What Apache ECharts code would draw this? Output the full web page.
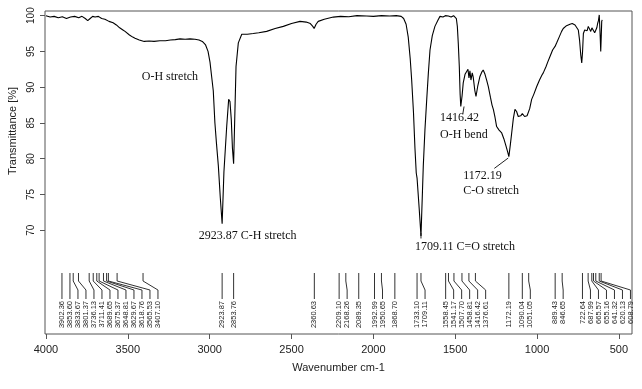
<!DOCTYPE html>
<html>
<head>
<meta charset="utf-8">
<script src="https://cdn.jsdelivr.net/npm/echarts@6/dist/echarts.min.js"></script>
<style>html,body{margin:0;padding:0;background:#fff;}#c{width:642px;height:389px;}</style>
</head>
<body>
<div id="c"></div>
<script>
// Spectrum (wavenumber cm-1, transmittance %)
const wavenumbers = [4000,3975,3950,3925,3900,3875,3850,3825,3800,3780,3760,3745,3730,3715,3700,3680,3660,3640,3615,3590,3570,3550,3530,3517,3490,3470,3456,3430,3400,3370,3340,3304,3270,3240,3210,3181,3150,3120,3090,3065,3045,3025,3010,2998,2988,2978,2968,2958,2947,2935,2923.87,2913,2896,2884,2876,2868,2861,2853.76,2847,2839,2825,2804,2770,2734,2700,2652,2600,2550,2500,2448,2410,2385,2370,2362,2350,2337,2300,2245,2200,2150,2100,2041,2000,1950,1900,1860,1830,1815,1800,1787,1775,1766,1755,1746,1738,1733.1,1726,1720,1709.11,1700,1695,1685,1674,1664,1654,1640,1624,1605,1593,1575,1560,1542,1525,1510,1501,1493,1487,1481,1475,1470,1466,1458,1451,1440,1430,1422,1416,1410,1404,1396,1390,1380,1373,1362,1349,1338,1329,1318,1308,1298,1285,1275,1267,1257,1247,1232,1216,1203,1190,1180,1172.19,1163,1155,1145,1135,1125,1115,1100,1090,1084,1076,1068,1061,1054,1045,1033,1020,1002,985,970,962,945,935,921,905,890,880,865,850,840,820,799,785,768,758,748,740,733,727,722,717,709,701,694,687,680,672,665,656,648,640,635,630,625,620,615,611,608,605,602];
const transmittance = [100,99.8,99.9,99.7,99.85,99.6,99.8,99.9,99.7,99.9,99.6,99.3,99.6,99.9,99.8,99.9,99.6,99.5,99.2,99.0,98.7,98.3,98.0,97.8,97.3,97.0,96.85,96.6,96.4,96.45,96.4,96.5,96.5,96.6,96.65,96.75,96.7,96.75,96.7,96.6,96.4,95.9,95.0,93.5,91.5,89.5,85.0,82.0,79.0,74.5,70.9,78.1,84.5,88.3,88.0,85.5,81.5,79.3,85.5,92.9,96.2,97.4,97.4,97.5,97.6,97.8,98.2,98.5,98.9,99.2,99.1,98.9,98.5,98.2,98.8,99.2,99.5,99.8,99.9,99.85,100,99.95,99.9,100,99.95,100,99.9,99.6,98.8,97.0,94.0,91.0,86.5,81.5,78.0,77.3,77.1,73.0,69.2,75.5,79.0,84.0,88.3,92.0,95.2,97.2,98.5,99.4,99.9,99.8,100,99.95,99.8,100,99.9,99.6,98.5,96.0,92.9,89.0,87.3,88.8,90.6,91.8,92.2,92.5,91.3,92.3,91.0,92.0,91.4,89.5,88.7,90.2,91.5,92.1,92.4,91.8,91.0,90.1,88.6,87.5,86.9,85.8,84.5,84.0,83.6,82.8,81.8,81.0,80.3,82.0,83.6,85.6,86.9,86.6,85.9,86.0,86.3,86.2,85.9,85.7,86.0,86.2,87.0,88.3,89.0,90.1,91.0,91.7,92.0,92.9,93.5,94.3,95.2,95.7,96.2,97.0,97.8,98.2,98.6,98.8,98.9,98.7,98.5,98.0,96.5,94.5,93.4,95.0,97.5,98.0,98.2,97.9,98.5,98.3,97.8,98.3,98.2,97.6,97.5,98.3,98.9,99.3,100.1,97.5,95.0,97.0,99.2,99.4];

// Peak list (wavenumbers shown in the peak table under the curve)
const peakWavenumbers = [3902.36,3853.60,3833.67,3801.37,3736.13,3711.41,3689.65,3675.37,3648.81,3629.67,3618.76,3565.53,3407.10,2923.87,2853.76,2360.63,2209.10,2168.26,2089.35,1992.99,1950.65,1868.70,1733.10,1709.11,1558.45,1541.17,1507.70,1458.81,1416.42,1376.61,1172.19,1090.04,1051.05,889.43,846.65,722.64,687.99,665.57,655.16,641.32,620.13,608.79];

// Band assignments
const annotationTexts = ['O-H stretch','2923.87 C-H stretch','1709.11 C=O stretch','1416.42','O-H bend','1172.19','C-O stretch'];
const annotationWavenumbers = [3415,3066,1746,1593,1593,1451,1451];
const annotationTransmittance = [91.46,69.18,67.65,85.71,83.38,77.58,75.49];
// leader lines [fromWn, fromT, toWn, toT]
const leaderFromWn = [1446,1176,1709.11];
const leaderFromT = [87.3,80.1,69.6];
const leaderToWn = [1454,1261,1709.11];
const leaderToT = [86.2,78.65,68.85];

const xTicks = [4000,3500,3000,2500,2000,1500,1000,500];
const yTicks = [70,75,80,85,90,95,100];

const chart = echarts.init(document.getElementById('c'), null, {renderer:'canvas'});
const Y_MIN = 55.5, Y_MAX = 100.65;

function fmt(v){ return v.toFixed(2); }

const peakRender = function(params, api){
  const idx = params.dataIndex;
  // label positions: pushed right to avoid overlap
  const gap = 8.0;
  let prev = -1e9, lx = [];
  for (let i=0;i<peakWavenumbers.length;i++){
    const px = api.coord([peakWavenumbers[i], Y_MIN])[0];
    const x = Math.max(px, prev + gap);
    lx.push(x); prev = x;
  }
  const base = api.coord([peakWavenumbers[idx], Y_MIN]);
  const px = base[0], bottom = base[1];
  const x2 = lx[idx];
  const yTop = bottom - 61, yB1 = bottom - 53, yB2 = bottom - 44, yEnd = bottom - 35;
  const pts = Math.abs(x2 - px) < 0.6 ? [[px,yTop],[px,yEnd]] : [[px,yTop],[px,yB1],[x2,yB2],[x2,yEnd]];
  return {type:'group', children:[
    {type:'polyline', shape:{points:pts}, style:{stroke:'#333', lineWidth:1, fill:null}},
    {type:'text', x:x2, y:bottom-33, rotation:Math.PI/2,
     style:{text:fmt(peakWavenumbers[idx]), fontSize:7.5, fontFamily:'Liberation Sans, Arial, sans-serif', fill:'#222', align:'right', verticalAlign:'middle'}}
  ]};
};

const annRender = function(params, api){
  const i = params.dataIndex;
  const p = api.coord([annotationWavenumbers[i], annotationTransmittance[i]]);
  return {type:'text', x:p[0], y:p[1], style:{text:annotationTexts[i], fontSize:12, fontFamily:'Liberation Serif, Times New Roman, serif', fill:'#111', align:'left', verticalAlign:'middle'}};
};
const leaderRender = function(params, api){
  const i = params.dataIndex;
  const a = api.coord([leaderFromWn[i], leaderFromT[i]]);
  const b = api.coord([leaderToWn[i], leaderToT[i]]);
  return {type:'line', shape:{x1:a[0],y1:a[1],x2:b[0],y2:b[1]}, style:{stroke:'#222', lineWidth:1}};
};

const option = {
  animation:false,
  backgroundColor:'#fff',
  grid:{left:45, top:11, right:10, bottom:55, show:true, borderColor:'#555', borderWidth:1, backgroundColor:'transparent'},
  xAxis:{type:'value', inverse:true, min:420, max:4006,
    name:'Wavenumber cm-1', nameLocation:'middle', nameGap:28,
    nameTextStyle:{fontSize:11, fontFamily:'Liberation Sans, Arial, sans-serif', color:'#222'},
    axisLine:{show:false}, splitLine:{show:false},
    axisTick:{show:true, length:5, lineStyle:{color:'#555'}, customValues:xTicks},
    axisLabel:{fontSize:11, margin:10, color:'#222', fontFamily:'Liberation Sans, Arial, sans-serif', customValues:xTicks, formatter:v=>String(v)}
  },
  yAxis:{type:'value', min:Y_MIN, max:Y_MAX,
    axisLine:{show:false}, splitLine:{show:false},
    axisTick:{show:true, length:5, lineStyle:{color:'#555'}, customValues:yTicks},
    axisLabel:{fontSize:10, rotate:90, margin:9, color:'#222', fontFamily:'Liberation Sans, Arial, sans-serif', customValues:yTicks, formatter:v=>String(v)}
  },
  graphic:[{type:'text', x:13, y:131, rotation:Math.PI/2,
    style:{text:'Transmittance [%]', fontSize:11, fontFamily:'Liberation Sans, Arial, sans-serif', fill:'#222', align:'center', verticalAlign:'middle'}}],
  series:[
    {type:'line', data:wavenumbers.map((w,i)=>[w, transmittance[i]]), showSymbol:false, symbol:'none',
     lineStyle:{color:'#000', width:1.1}, silent:true, clip:true},
    {type:'custom', coordinateSystem:'cartesian2d', renderItem:peakRender, clip:false, silent:true,
     data:peakWavenumbers.map(w=>[w, Y_MIN])},
    {type:'custom', coordinateSystem:'cartesian2d', renderItem:annRender, clip:false, silent:true,
     data:annotationWavenumbers.map((w,i)=>[w, annotationTransmittance[i]])},
    {type:'custom', coordinateSystem:'cartesian2d', renderItem:leaderRender, clip:false, silent:true,
     data:leaderFromWn.map((w,i)=>[w, leaderFromT[i]])}
  ]
};
chart.setOption(option);
</script>
</body>
</html>
